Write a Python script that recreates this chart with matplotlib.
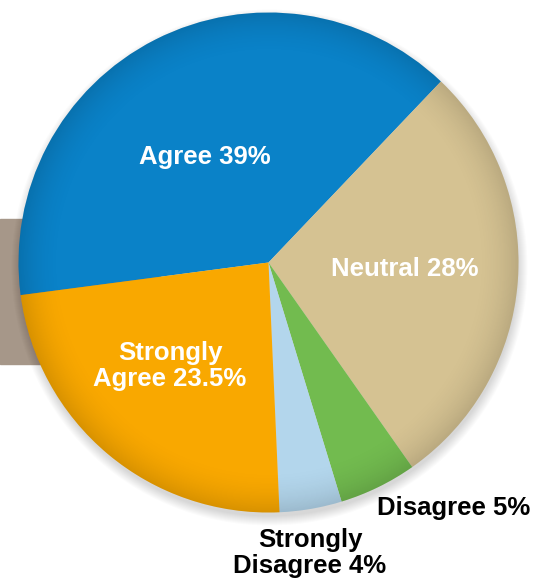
import numpy as np
import matplotlib.pyplot as plt
from matplotlib.patches import Rectangle, Circle

labels = ['Agree', 'Neutral', 'Disagree', 'Strongly\nDisagree', 'Strongly\nAgree']
values = [39, 28, 5, 4, 23.5]
colors = ['#0a82c8', '#d5c292', '#72bb4f', '#b3d6ec', '#f9a800']

plt.rcParams['font.family'] = ['Liberation Sans', 'DejaVu Sans']

fig = plt.figure(figsize=(5.52, 5.79), dpi=100)
ax = fig.add_axes([0, 0, 1, 1])

cx, cy, R = 268.5, 316.5, 250

# background block behind the pie
ax.add_patch(Rectangle((0, 215), 160, 145, color='#a69789', zorder=0))

# soft drop shadow, mostly below the pie
for i in range(10):
    ax.add_patch(Circle((cx + 1, cy - 5), R + 8 - i, color='black',
                        alpha=0.015, lw=0, zorder=1))

wedges, _ = ax.pie(values, colors=colors, startangle=187.5, counterclock=False,
                   center=(cx, cy), radius=R, frame=False,
                   wedgeprops=dict(linewidth=0, zorder=2))
ax.set_xlim(0, 552)
ax.set_ylim(0, 579)
ax.set_aspect('equal')
ax.axis('off')

# darker rim shading
yy, xx = np.mgrid[0:579, 0:552]
r = np.hypot(xx - cx, yy - cy) / R
shade = np.zeros((579, 552, 4))
shade[..., 3] = np.clip((r - 0.82) / 0.18, 0, 1) ** 2 * 0.13
img = ax.imshow(shade, extent=(0, 552, 0, 579), origin='lower', zorder=3)
img.set_clip_path(Circle((cx, cy), R, transform=ax.transData))

fs = 18.5
ax.text(205, 422, 'Agree 39%', color='white', fontsize=fs, fontweight='bold',
        ha='center', va='center', zorder=5)
ax.text(405, 310, 'Neutral 28%', color='white', fontsize=fs, fontweight='bold',
        ha='center', va='center', zorder=5)
ax.text(170, 213, 'Strongly\nAgree 23.5%', color='white', fontsize=fs,
        fontweight='bold', ha='center', va='center', linespacing=1.1, zorder=5)
ax.text(454, 71, 'Disagree 5%', color='black', fontsize=fs, fontweight='bold',
        ha='center', va='center', zorder=5)
ax.text(310, 26, 'Strongly\nDisagree 4%', color='black', fontsize=fs,
        fontweight='bold', ha='center', va='center', linespacing=1.1, zorder=5)

fig.savefig('out.png', dpi=100)
